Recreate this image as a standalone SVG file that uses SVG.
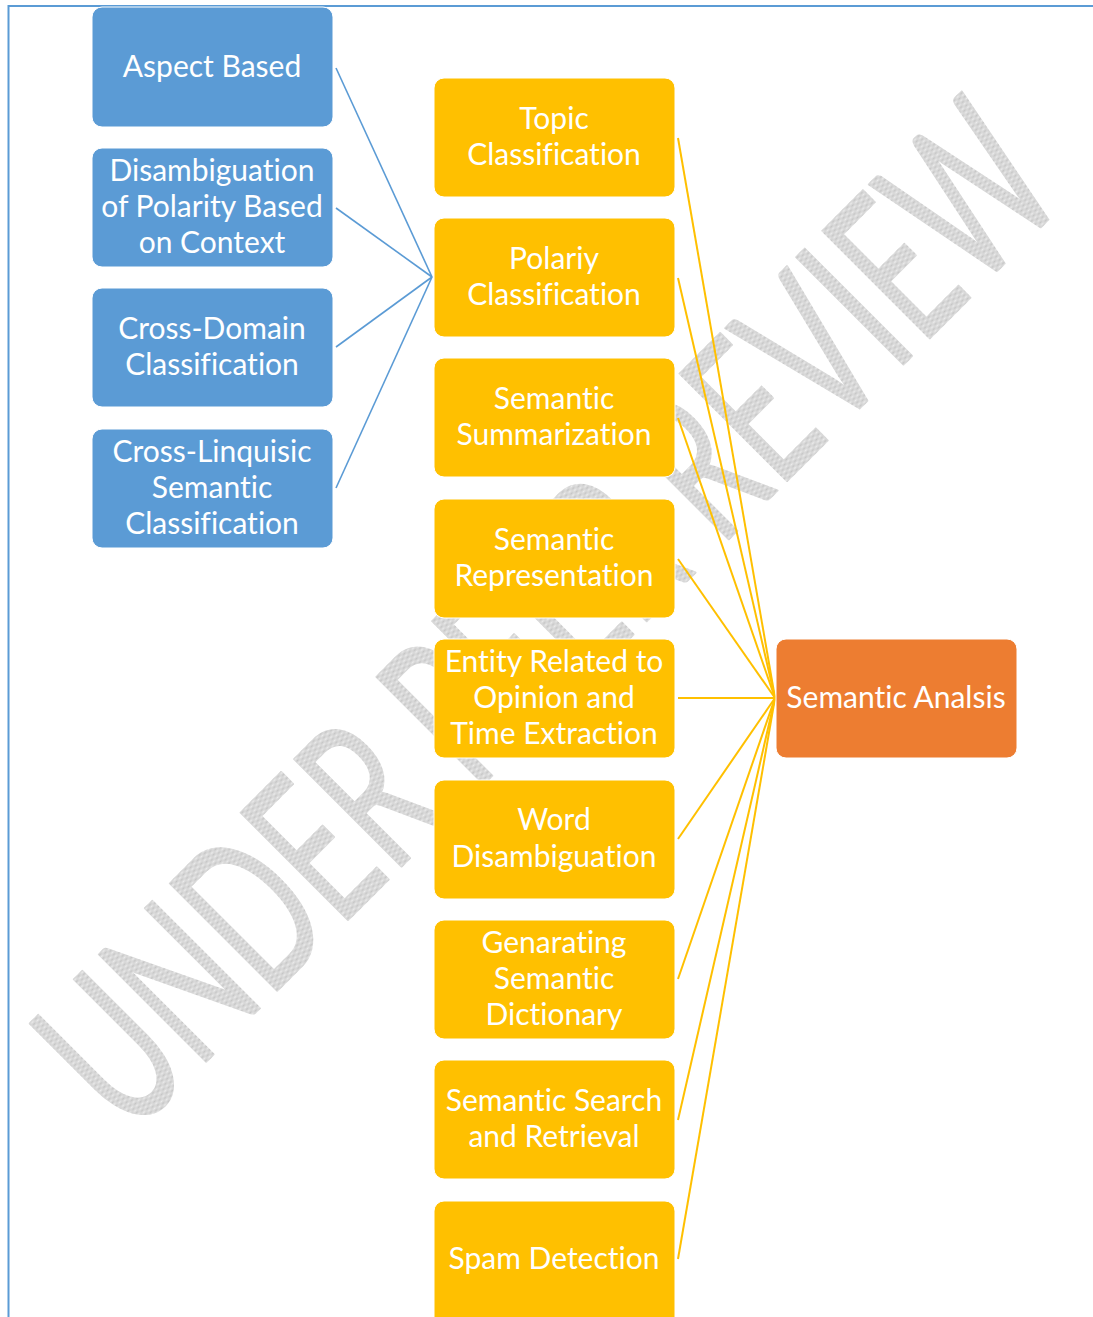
<svg xmlns="http://www.w3.org/2000/svg" width="1093" height="1317" viewBox="0 0 1093 1317">
<defs>
<pattern id="hatch" width="2" height="2" patternUnits="userSpaceOnUse">
<rect width="2" height="2" fill="#ececec"/>
<rect width="1" height="1" fill="#c4c4c4"/>
<rect x="1" y="1" width="1" height="1" fill="#c4c4c4"/>
</pattern>
</defs>
<style>
.blue{fill:#5B9BD5;stroke:#ffffff;stroke-width:1}
.yel{fill:#FFC000;stroke:#ffffff;stroke-width:1}
.org{fill:#ED7D31;stroke:#ffffff;stroke-width:1}
.lbl{font-family:Lato,"Liberation Sans",sans-serif;font-size:30px;font-weight:400;font-variant-ligatures:none;fill:#ffffff;text-anchor:middle}
.cb{stroke:#5B9BD5;stroke-width:1.6;fill:none}
.cy{stroke:#FFC000;stroke-width:2;fill:none}
.wm{font-family:Lato,"Liberation Sans",sans-serif;font-size:212px;fill:url(#hatch);stroke:url(#hatch);stroke-width:2;stroke-linejoin:round;text-anchor:middle}
</style>
<rect width="1093" height="1317" fill="#ffffff"/>
<g id="frame">
<line x1="8" y1="6" x2="1093" y2="6" stroke="#5B9BD5" stroke-width="2"/>
<line x1="8.5" y1="5" x2="8.5" y2="1317" stroke="#5B9BD5" stroke-width="2"/>
</g>
<g id="watermark">
<text class="wm" transform="translate(600,668) rotate(-45) scale(0.62,1)" x="0" y="0">UNDER PEER REVIEW</text>
</g>
<g id="connectors">
<line class="cb" x1="336" y1="68" x2="432" y2="277"/>
<line class="cb" x1="336" y1="208" x2="432" y2="277"/>
<line class="cb" x1="336" y1="347" x2="432" y2="277"/>
<line class="cb" x1="336" y1="488" x2="432" y2="277"/>
<line class="cy" x1="678" y1="138" x2="775" y2="698"/>
<line class="cy" x1="678" y1="278" x2="775" y2="698"/>
<line class="cy" x1="678" y1="418" x2="775" y2="698"/>
<line class="cy" x1="678" y1="559" x2="775" y2="698"/>
<line class="cy" x1="678" y1="698" x2="775" y2="698"/>
<line class="cy" x1="678" y1="839" x2="775" y2="698"/>
<line class="cy" x1="678" y1="979" x2="775" y2="698"/>
<line class="cy" x1="678" y1="1120" x2="775" y2="698"/>
<line class="cy" x1="678" y1="1259" x2="775" y2="698"/>
</g>
<g id="aspect-based">
<rect class="blue" x="92" y="7" width="241" height="120" rx="10"/>
<text class="lbl" x="212" y="77">Aspect Based</text>
</g>
<g id="disambiguation-polarity">
<rect class="blue" x="92" y="148" width="241" height="119" rx="10"/>
<text class="lbl" x="212" y="181"><tspan x="212">Disambiguation</tspan><tspan x="212" dy="36">of Polarity Based</tspan><tspan x="212" dy="36">on Context</tspan></text>
</g>
<g id="cross-domain">
<rect class="blue" x="92" y="288" width="241" height="119" rx="10"/>
<text class="lbl" x="212" y="339"><tspan x="212">Cross-Domain</tspan><tspan x="212" dy="36">Classification</tspan></text>
</g>
<g id="cross-linquisic">
<rect class="blue" x="92" y="429" width="241" height="119" rx="10"/>
<text class="lbl" x="212" y="462"><tspan x="212">Cross-Linquisic</tspan><tspan x="212" dy="36">Semantic</tspan><tspan x="212" dy="36">Classification</tspan></text>
</g>
<g id="topic-classification">
<rect class="yel" x="434" y="78" width="241" height="119" rx="10"/>
<text class="lbl" x="554" y="129"><tspan x="554">Topic</tspan><tspan x="554" dy="36">Classification</tspan></text>
</g>
<g id="polariy-classification">
<rect class="yel" x="434" y="218" width="241" height="119" rx="10"/>
<text class="lbl" x="554" y="269"><tspan x="554">Polariy</tspan><tspan x="554" dy="36">Classification</tspan></text>
</g>
<g id="semantic-summarization">
<rect class="yel" x="434" y="358" width="241" height="119" rx="10"/>
<text class="lbl" x="554" y="409"><tspan x="554">Semantic</tspan><tspan x="554" dy="36">Summarization</tspan></text>
</g>
<g id="semantic-representation">
<rect class="yel" x="434" y="499" width="241" height="119" rx="10"/>
<text class="lbl" x="554" y="550"><tspan x="554">Semantic</tspan><tspan x="554" dy="36">Representation</tspan></text>
</g>
<g id="entity-related">
<rect class="yel" x="434" y="639" width="241" height="119" rx="10"/>
<text class="lbl" x="554" y="672"><tspan x="554">Entity Related to</tspan><tspan x="554" dy="36">Opinion and</tspan><tspan x="554" dy="36">Time Extraction</tspan></text>
</g>
<g id="word-disambiguation">
<rect class="yel" x="434" y="780" width="241" height="119" rx="10"/>
<text class="lbl" x="554" y="830"><tspan x="554">Word</tspan><tspan x="554" dy="37">Disambiguation</tspan></text>
</g>
<g id="genarating-dictionary">
<rect class="yel" x="434" y="920" width="241" height="119" rx="10"/>
<text class="lbl" x="554" y="953"><tspan x="554">Genarating</tspan><tspan x="554" dy="36">Semantic</tspan><tspan x="554" dy="36">Dictionary</tspan></text>
</g>
<g id="semantic-search">
<rect class="yel" x="434" y="1060" width="241" height="119" rx="10"/>
<text class="lbl" x="554" y="1111"><tspan x="554">Semantic Search</tspan><tspan x="554" dy="36">and Retrieval</tspan></text>
</g>
<g id="spam-detection">
<rect class="yel" x="434" y="1201" width="241" height="130" rx="10"/>
<text class="lbl" x="554" y="1269">Spam Detection</text>
</g>
<g id="semantic-analsis">
<rect class="org" x="776" y="639" width="241" height="119" rx="10"/>
<text class="lbl" x="896" y="708">Semantic Analsis</text>
</g>
</svg>
